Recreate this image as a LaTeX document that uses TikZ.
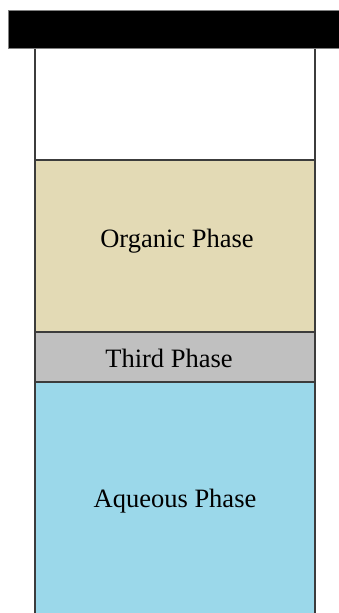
\documentclass[tikz,border=0pt]{standalone}
\usepackage{fontspec}
\setmainfont{Liberation Serif}
\definecolor{organic}{RGB}{227,218,181}
\definecolor{third}{RGB}{192,192,192}
\definecolor{aqueous}{RGB}{155,216,234}
\definecolor{wall}{RGB}{60,60,60}
\begin{document}
\begin{tikzpicture}[x=1pt,y=-1pt,
  band/.style={draw=wall,line width=2pt},
  label/.style={anchor=base,font=\fontsize{26.5}{30}\selectfont,text=black,inner sep=0pt}]
\useasboundingbox (0,0) rectangle (338,613);
\fill[white] (0,0) rectangle (338,613);
% phases
\fill[organic] (35,160) rectangle (315,332);
\fill[third] (35,332) rectangle (315,382);
\fill[aqueous] (35,382) rectangle (315,613);
% walls
\draw[band] (35,48) -- (35,614);
\draw[band] (315,48) -- (315,614);
\draw[band] (35,160) -- (315,160);
\draw[band] (35,332) -- (315,332);
\draw[band] (35,382) -- (315,382);
% cap
\draw[fill=black,draw=gray,line width=1pt] (8,10) rectangle (340,48);
% labels
\node[label] (org) at (177,247) {Organic Phase};
\node[label] (thi) at (169,367) {Third Phase};
\node[label] (aqu) at (175,507) {Aqueous Phase};
\end{tikzpicture}
\end{document}
